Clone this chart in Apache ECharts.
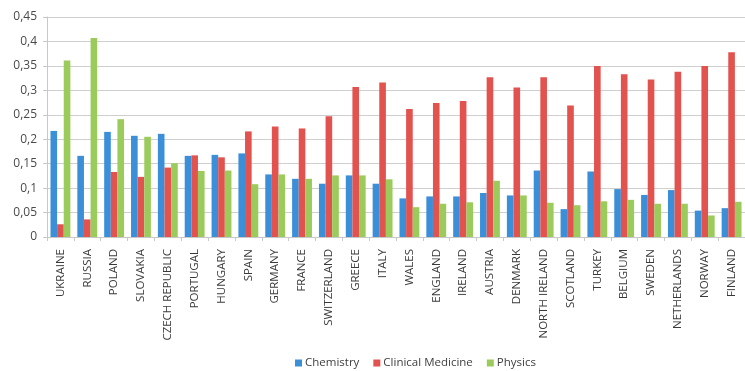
<!DOCTYPE html>
<html>
<head>
<meta charset="utf-8">
<script src="https://cdn.jsdelivr.net/npm/echarts@6/dist/echarts.min.js"></script>
<style>
  html, body { margin: 0; padding: 0; background: #fff; }
  #chart { width: 745px; height: 371px; }
</style>
</head>
<body>
<div id="chart"></div>
<script>
// Countries along the x axis
const countries = [
  'UKRAINE', 'RUSSIA', 'POLAND', 'SLOVAKIA', 'CZECH REPUBLIC', 'PORTUGAL',
  'HUNGARY', 'SPAIN', 'GERMANY', 'FRANCE', 'SWITZERLAND', 'GREECE', 'ITALY',
  'WALES', 'ENGLAND', 'IRELAND', 'AUSTRIA', 'DENMARK', 'NORTH IRELAND',
  'SCOTLAND', 'TURKEY', 'BELGIUM', 'SWEDEN', 'NETHERLANDS', 'NORWAY', 'FINLAND'
];

// Share per field and country
const chemistry = [
  0.217, 0.166, 0.215, 0.207, 0.211, 0.166, 0.168, 0.171, 0.128, 0.119, 0.109, 0.126, 0.109,
  0.079, 0.083, 0.083, 0.090, 0.085, 0.136, 0.057, 0.134, 0.098, 0.086, 0.096, 0.054, 0.059
];
const clinicalMedicine = [
  0.026, 0.036, 0.133, 0.123, 0.142, 0.167, 0.163, 0.216, 0.226, 0.222, 0.247, 0.307, 0.316,
  0.262, 0.274, 0.278, 0.327, 0.306, 0.327, 0.269, 0.350, 0.333, 0.322, 0.338, 0.350, 0.378
];
const physics = [
  0.361, 0.407, 0.241, 0.205, 0.151, 0.135, 0.136, 0.108, 0.128, 0.119, 0.126, 0.126, 0.118,
  0.061, 0.068, 0.071, 0.115, 0.085, 0.070, 0.065, 0.073, 0.076, 0.068, 0.068, 0.044, 0.072
];

const seriesNames = ['Chemistry', 'Clinical Medicine', 'Physics'];
const seriesColors = ['#3b8fd9', '#e2524e', '#9bcb5b'];

const chart = echarts.init(document.getElementById('chart'), null, { renderer: 'canvas' });

const labelFont = '"Open Sans", "Liberation Sans", sans-serif';

function bar(name, data, color) {
  return {
    name: name,
    type: 'bar',
    data: data,
    barGap: '0%',
    barCategoryGap: '26%',
    itemStyle: { color: color },
    emphasis: { disabled: true }
  };
}

chart.setOption({
  animation: false,
  backgroundColor: '#ffffff',
  grid: { left: 47, right: -4, top: 17, bottom: 134, containLabel: false },
  legend: {
    data: seriesNames,
    left: 290,
    bottom: -3,
    itemWidth: 7,
    itemHeight: 7,
    itemGap: 14,
    icon: 'rect',
    textStyle: { fontFamily: labelFont, fontSize: 11.5, color: '#404040', padding: [0, 0, 0, -2] }
  },
  xAxis: {
    type: 'category',
    data: countries,
    axisLine: { show: true, lineStyle: { color: '#c8c8c8', width: 1 } },
    axisTick: { show: true, alignWithLabel: false, length: 4, lineStyle: { color: '#c8c8c8' } },
    axisLabel: {
      interval: 0,
      rotate: 90,
      margin: 12,
      fontFamily: labelFont,
      fontSize: 11.5,
      color: '#3a3a3a'
    },
    splitLine: { show: false }
  },
  yAxis: {
    type: 'value',
    min: 0,
    max: 0.45,
    interval: 0.05,
    axisLine: { show: true, lineStyle: { color: '#c8c8c8', width: 1 } },
    axisTick: { show: true, length: 4, lineStyle: { color: '#c8c8c8' } },
    axisLabel: {
      margin: 10,
      fontFamily: labelFont,
      fontSize: 12,
      color: '#4a4a4a',
      formatter: function (v) {
        return String(Math.round(v * 100) / 100).replace('.', ',');
      }
    },
    splitLine: { show: true, lineStyle: { color: '#cfcfcf', width: 1 } }
  },
  series: [
    bar(seriesNames[0], chemistry, seriesColors[0]),
    bar(seriesNames[1], clinicalMedicine, seriesColors[1]),
    bar(seriesNames[2], physics, seriesColors[2])
  ]
});
</script>
</body>
</html>
